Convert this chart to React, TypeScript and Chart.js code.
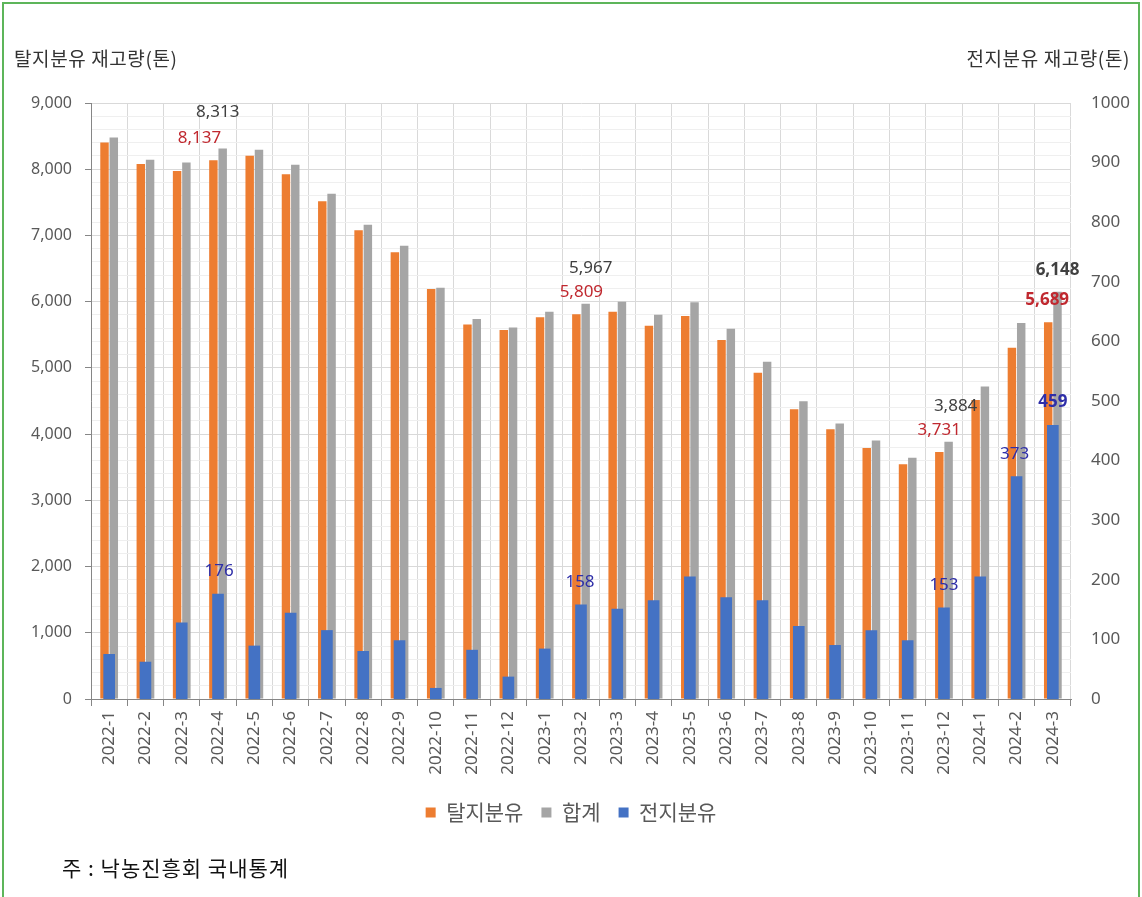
import React, { useEffect, useRef } from 'react';
import { Chart, registerables } from 'chart.js';

Chart.register(...registerables);

// ---- data ----
const categories = [
  '2022-1', '2022-2', '2022-3', '2022-4', '2022-5', '2022-6', '2022-7', '2022-8', '2022-9', '2022-10', '2022-11', '2022-12',
  '2023-1', '2023-2', '2023-3', '2023-4', '2023-5', '2023-6', '2023-7', '2023-8', '2023-9', '2023-10', '2023-11', '2023-12',
  '2024-1', '2024-2', '2024-3',
];

// 탈지분유 (left axis, 톤)
const skimMilk = [8405, 8080, 7975, 8137, 8205, 7925, 7515, 7080, 6745, 6192, 5655, 5572, 5765, 5809, 5849, 5637, 5785, 5421, 4927, 4374, 4072, 3790, 3544, 3731, 4515, 5305, 5689];
// 합계 (left axis, 톤)
const totalStock = [8480, 8142, 8103, 8313, 8294, 8069, 7630, 7160, 6843, 6210, 5737, 5609, 5849, 5967, 6000, 5802, 5990, 5591, 5092, 4496, 4162, 3905, 3642, 3884, 4720, 5678, 6148];
// 전지분유 (right axis, 톤)
const wholeMilk = [75, 62, 128, 176, 89, 144, 115, 80, 98, 18, 82, 37, 84, 158, 151, 165, 205, 170, 165, 122, 90, 115, 98, 153, 205, 373, 459];

// indices of bars carrying a value label
const skimLabelIdx = [3, 13, 23, 26];
const totalLabelIdx = [3, 13, 23, 26];
const wholeLabelIdx = [3, 13, 23, 25, 26];

const leftMin = 0;
const leftMax = 9000;
const leftMajor = 1000;
const leftMinor = 200;
const rightMin = 0;
const rightMax = 1000;
const rightStep = 100;

const seriesNames = ['탈지분유', '합계', '전지분유'];
const leftTitle = '탈지분유 재고량(톤)';
const rightTitle = '전지분유 재고량(톤)';
const footnote = '주 : 낙농진흥회 국내통계';

// ---- style ----
const FONT = "'Noto Sans', 'Noto Sans CJK KR', sans-serif";
const KFONT = "'Noto Sans CJK KR', 'Noto Sans', sans-serif";
const ORANGE = '#ED7D31';
const GRAY = '#A5A5A5';
const BLUE = '#4472C4';
const AXIS_TEXT = '#595959';

const labelStyles: Record<number, { color: string; dy: number; dx: Record<number, number>; dyOverride?: Record<number, number> }> = {
  0: { color: '#C0282F', dy: 22, dx: { 3: -14, 13: 5, 23: 0, 26: -1 } },
  1: { color: '#404040', dy: 36, dx: { 3: -5, 13: 5, 23: 7, 26: 0 }, dyOverride: { 26: 22 } },
  2: { color: '#2E2EA8', dy: 23, dx: { 3: 1, 13: -1, 23: 0, 25: -2, 26: 0 } },
};
const labelIndexSets = [skimLabelIdx, totalLabelIdx, wholeLabelIdx];
const boldIndex = 26;

const valueLabelPlugin = {
  id: 'valueLabels',
  afterDatasetsDraw(chart: any) {
    const ctx = chart.ctx;
    ctx.save();
    ctx.textAlign = 'center';
    ctx.textBaseline = 'middle';
    labelIndexSets.forEach((idxs, ds) => {
      const meta = chart.getDatasetMeta(ds);
      const st = labelStyles[ds];
      idxs.forEach((i) => {
        const el = meta.data[i];
        if (!el) return;
        const v = chart.data.datasets[ds].data[i] as number;
        const text = ds === 2 ? String(v) : v.toLocaleString('en-US');
        const dy = st.dyOverride && st.dyOverride[i] !== undefined ? st.dyOverride[i] : st.dy;
        ctx.font = `${i === boldIndex ? 'bold ' : ''}17px ${FONT}`;
        ctx.fillStyle = st.color;
        ctx.fillText(text, el.x + (st.dx[i] || 0), el.y - dy);
      });
    });
    ctx.restore();
  },
};

export default function App() {
  const canvasRef = useRef<HTMLCanvasElement | null>(null);

  useEffect(() => {
    if (!canvasRef.current) return;
    const chart = new Chart(canvasRef.current, {
      type: 'bar',
      data: {
        labels: categories,
        datasets: [
          {
            label: seriesNames[0],
            data: skimMilk,
            backgroundColor: ORANGE,
            yAxisID: 'y',
            order: 1,
            categoryPercentage: 0.512,
            barPercentage: 0.91,
          },
          {
            label: seriesNames[1],
            data: totalStock,
            backgroundColor: GRAY,
            yAxisID: 'y',
            order: 1,
            categoryPercentage: 0.512,
            barPercentage: 0.91,
          },
          {
            label: seriesNames[2],
            data: wholeMilk,
            backgroundColor: BLUE,
            yAxisID: 'y1',
            order: 0,
            grouped: false,
            barThickness: 11,
          } as any,
        ],
      },
      options: {
        animation: false,
        responsive: false,
        maintainAspectRatio: false,
        devicePixelRatio: 1,
        layout: { padding: { top: 103, bottom: 64, left: 0, right: 0 } },
        plugins: {
          tooltip: { enabled: false },
          legend: {
            position: 'bottom',
            labels: {
              sort: (a: any, b: any) => a.datasetIndex - b.datasetIndex,
              boxWidth: 10,
              boxHeight: 10,
              padding: 18,
              color: AXIS_TEXT,
              font: { size: 21, family: KFONT },
            },
          },
        },
        scales: {
          x: {
            offset: true,
            afterFit: (s: any) => { s.height = 85; },
            grid: {
              offset: true,
              color: '#D9D9D9',
              tickColor: '#868686',
              tickLength: 7,
            },
            border: { color: '#868686', width: 1 },
            ticks: {
              minRotation: 90,
              maxRotation: 90,
              autoSkip: false,
              padding: 5,
              color: AXIS_TEXT,
              font: { size: 17, family: FONT },
            },
          },
          y: {
            position: 'left',
            min: leftMin,
            max: leftMax,
            afterFit: (s: any) => { s.width = 91; },
            grid: {
              color: (c: any) => (c.tick && c.tick.value % leftMajor === 0 ? '#D9D9D9' : '#EFEFEF'),
              tickColor: (c: any) => (c.tick && c.tick.value % leftMajor === 0 ? '#868686' : 'rgba(0,0,0,0)'),
              tickLength: 6,
            },
            border: { color: '#868686', width: 1 },
            ticks: {
              stepSize: leftMinor,
              autoSkip: false,
              padding: 13,
              color: AXIS_TEXT,
              font: { size: 16, family: FONT },
              callback: (v: any) => (Number(v) % leftMajor === 0 ? Number(v).toLocaleString('en-US') : ''),
            },
          },
          y1: {
            position: 'right',
            min: rightMin,
            max: rightMax,
            afterFit: (s: any) => { s.width = 71; },
            grid: { display: false, drawOnChartArea: false, drawTicks: false },
            border: { display: false },
            ticks: {
              stepSize: rightStep,
              autoSkip: false,
              padding: 20,
              color: AXIS_TEXT,
              font: { size: 17, family: FONT },
              callback: (v: any) => String(v),
            },
          },
        },
      },
      plugins: [valueLabelPlugin],
    });
    return () => chart.destroy();
  }, []);

  return (
    <div style={{ position: 'absolute', left: 0, top: 0, width: 1142, height: 897, overflow: 'hidden', background: '#fff' }}>
      <div
        style={{
          position: 'absolute', left: 2, top: 2, width: 1138, height: 940,
          border: '2.5px solid #5DB55A', boxSizing: 'border-box',
        }}
      />
      <canvas ref={canvasRef} width={1142} height={897} style={{ position: 'absolute', left: 0, top: 0, width: 1142, height: 897 }} />
      <div style={{ position: 'absolute', left: 14, top: 45, fontFamily: KFONT, fontSize: 19, letterSpacing: 0.6, color: '#333', lineHeight: '26px', whiteSpace: 'nowrap' }}>{leftTitle}</div>
      <div style={{ position: 'absolute', right: 12, top: 45, fontFamily: KFONT, fontSize: 19, letterSpacing: 0.6, color: '#333', lineHeight: '26px', whiteSpace: 'nowrap' }}>{rightTitle}</div>
      <div style={{ position: 'absolute', left: 62, top: 853, fontFamily: KFONT, fontSize: 21, letterSpacing: 1, color: '#111', lineHeight: '28px', whiteSpace: 'nowrap' }}>{footnote}</div>
    </div>
  );
}
